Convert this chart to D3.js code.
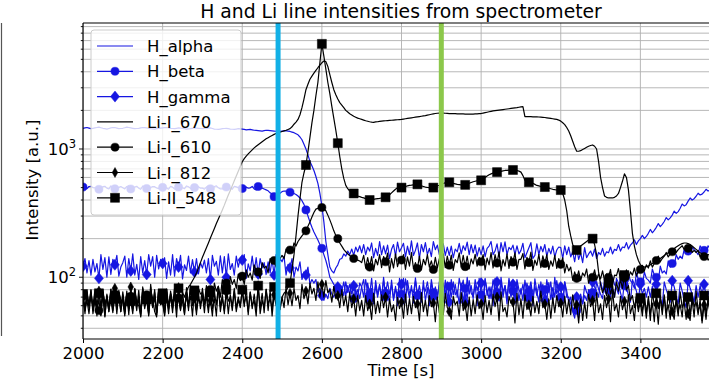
<!DOCTYPE html>
<html><head><meta charset="utf-8">
<script src="https://cdn.jsdelivr.net/npm/d3@7"></script>
<style>body{margin:0;background:#fff}svg{display:block}text{font-family:"DejaVu Sans",sans-serif}</style>
</head><body><svg id="c" width="709" height="386"></svg>
<script>
// ---- data (sampled every 5 s from t = 2000 s; one row = 100 s) ----
const tStart = 2000, tStep = 5;
const hAlpha = [
1450,1460,1470,1455,1440,1450,1460,1470,1480,1465,1450,1440,1430,1445,1460,1470,1470,1455,1440,1445,
1450,1465,1480,1470,1460,1450,1440,1445,1450,1460,1470,1465,1460,1450,1440,1435,1430,1440,1450,1455,
1460,1465,1470,1460,1450,1445,1440,1450,1460,1455,1450,1440,1430,1435,1440,1450,1460,1455,1450,1445,
1440,1445,1450,1455,1460,1445,1430,1425,1420,1430,1440,1445,1450,1440,1430,1425,1420,1430,1440,1435,
1430,1420,1410,1415,1420,1410,1400,1395,1390,1385,1380,1390,1400,1395,1390,1385,1380,1375,1370,1375,
1380,1385,1390,1380,1370,1355,1340,1315,1290,1240,1180,1090,1000,900,800,740,680,610,540,450,
360,270,190,150,120,112,108,118,125,138,140,152,146,160,150,166,148,172,158,176,
155,180,150,172,160,185,142,168,148,190,150,176,152,178,140,165,180,146,188,158,
170,184,144,175,150,192,148,162,185,140,180,158,186,150,168,145,190,164,178,150,
160,182,148,172,148,175,142,166,158,184,152,176,162,188,150,180,155,178,146,170,
150,176,145,168,175,190,150,160,182,144,186,158,189,150,171,164,178,150,176,152,
162,184,142,155,170,186,140,148,182,150,174,158,180,146,168,152,175,144,163,172,
170,140,176,150,172,144,158,132,168,138,155,130,170,142,152,160,146,166,140,156,
150,168,146,158,155,172,152,165,162,180,160,172,170,186,166,178,185,196,180,192,
200,212,200,208,220,236,222,232,245,262,248,258,272,292,280,290,305,328,315,325,
345,372,360,368,392,415,400,410,428,452,438,445,462,485,470,478,490,505,495,500,
510];
const hBeta = [
505,495,490,510,512,500,498,485,485,500,508,512,495,488,515,505,490,495,502,510,
498,488,510,515,488,495,505,512,495,485,515,505,492,485,500,510,508,496,490,500,
502,512,495,486,512,504,488,480,505,512,498,490,515,508,493,486,500,512,508,495,
495,486,505,514,490,482,510,516,498,488,488,500,505,512,495,485,512,506,500,490,
492,502,505,494,498,510,488,480,510,500,495,488,480,472,455,448,425,432,440,452,
465,470,470,462,460,455,450,442,430,415,395,370,335,300,270,245,225,210,195,180,
168,150,135,118,100,94,88,84,82,76,78,92,72,86,74,88,68,80,70,90,
84,70,96,76,68,82,62,94,73,88,66,100,70,79,64,95,66,85,60,98,
74,62,97,81,69,86,63,99,72,78,64,94,65,83,60,96,76,70,66,92,
80,64,95,67,85,70,92,73,79,62,90,64,82,68,94,75,71,87,60,98,
73,62,96,80,68,84,60,98,76,65,93,70,86,70,95,72,78,62,90,66,
82,66,95,74,69,85,60,97,77,64,92,71,80,66,91,67,83,70,94,75,
70,62,92,78,64,70,56,58,55,48,74,62,72,66,80,68,76,68,92,81,
74,68,96,85,79,70,100,88,82,74,104,90,86,78,106,94,90,82,108,96,
92,86,110,98,95,90,116,104,100,94,122,108,112,106,134,120,128,122,150,138,
146,140,164,152,160,152,172,164,158,150,176,166,162,154,176,168,160,152,172,165,
162];
const hGamma = [
122,140,108,135,104,138,110,128,98,150,115,142,100,144,105,138,125,148,102,120,
130,146,100,140,112,152,104,126,96,145,108,135,105,150,122,145,100,148,116,138,
128,142,98,132,104,150,102,140,120,148,97,125,113,146,108,137,110,140,106,130,
118,136,108,140,96,148,122,133,104,147,108,145,100,152,115,128,104,146,120,140,
136,150,98,127,112,146,110,142,106,140,118,130,105,132,108,138,104,150,121,140,
132,146,104,126,118,140,100,120,112,132,96,110,104,120,88,96,90,96,76,82,
72,66,74,68,82,74,70,78,84,70,82,72,92,76,88,74,86,72,80,68,
85,96,64,90,74,98,66,86,70,86,72,94,76,92,74,88,68,82,72,90,
88,98,64,94,75,80,76,94,72,86,70,84,78,92,74,90,70,84,72,86,
76,90,74,92,64,96,73,88,70,98,82,95,64,100,74,86,68,96,79,90,
90,64,98,72,84,68,96,78,92,66,100,76,86,62,98,70,88,68,96,80,
74,88,70,90,78,92,70,85,72,88,74,88,66,96,76,92,64,100,74,84,
84,62,92,70,70,62,54,48,70,60,68,62,86,76,72,64,92,84,78,70,
92,80,86,74,88,74,82,70,98,90,76,66,94,84,72,64,96,88,78,68,
88,74,82,70,84,70,85,74,88,76,68,60,92,80,72,64,94,84,70,62,
90,78,66,58,94,82,74,64,86,70,86,74,88,72,78,66,84,68,80,70,
75];
const liI670 = [
68,55,78,61,74,58,72,57,66,51,80,59,71,54,77,65,73,56,79,62,
67,52,74,55,70,57,82,64,60,50,84,63,76,55,75,58,69,53,80,66,
62,51,79,57,71,53,80,64,68,56,76,70,78,84,88,94,100,108,118,130,
143,156,170,185,202,220,240,262,284,308,335,365,400,437,475,518,565,615,670,730,
795,840,880,915,950,985,1020,1050,1080,1110,1140,1170,1200,1225,1250,1275,1300,1320,1340,1355,
1370,1385,1400,1420,1440,1490,1560,1620,1700,1850,2100,2450,2900,3200,3500,3700,3900,4100,4300,4500,
4700,4850,4800,4400,3800,3300,2900,2650,2450,2300,2200,2100,2000,1940,1880,1840,1800,1770,1740,1720,
1700,1680,1660,1645,1630,1620,1615,1625,1630,1640,1650,1655,1660,1665,1670,1675,1680,1685,1690,1695,
1700,1710,1720,1730,1740,1750,1760,1770,1780,1790,1800,1810,1820,1835,1850,1865,1880,1890,1900,1905,
1910,1905,1900,1895,1890,1890,1890,1885,1880,1880,1880,1875,1870,1870,1870,1870,1870,1875,1880,1885,
1890,1905,1920,1935,1950,1965,1980,1990,2000,2010,2020,2030,2040,2050,2060,2070,2080,2090,2100,2115,
2130,2140,1790,1790,1790,1785,1780,1780,1780,1775,1770,1765,1760,1750,1740,1730,1720,1710,1700,1680,
1650,1600,1550,1470,1380,1270,1150,1040,960,960,970,990,1010,1030,1050,1065,1075,1050,1000,800,
600,500,430,420,415,415,415,420,430,450,500,560,640,600,480,330,220,175,150,135,
125,122,120,121,122,125,128,130,133,136,140,144,148,152,155,159,163,167,172,176,
180,183,185,185,183,180,175,170,165,160,155,152,150,150,150,149,148,148,148,147,
147];
const liI610 = [
71,58,66,52,72,60,79,61,55,50,76,63,69,54,81,60,74,52,77,67,
64,50,75,57,71,55,80,59,66,52,82,62,73,51,79,68,54,49,78,70,
66,53,77,60,75,57,82,63,69,55,76,57,72,58,84,65,70,56,82,74,
76,62,86,73,80,66,90,78,85,70,96,83,90,76,101,88,96,82,106,94,
102,88,114,100,108,95,125,112,110,98,130,118,122,108,140,128,135,120,150,140,
148,140,166,155,163,158,185,175,190,200,210,220,230,250,270,295,320,340,345,352,
350,342,330,305,280,255,230,212,200,185,175,165,158,152,148,144,140,138,136,134,
130,148,118,142,120,145,112,138,125,150,119,145,132,154,110,140,118,152,121,138,
136,150,115,144,122,156,117,130,117,146,114,138,125,150,120,134,115,143,118,140,
128,152,119,146,124,149,113,137,130,155,120,148,121,146,116,139,127,151,122,143,
132,150,114,141,125,156,118,150,129,158,112,137,122,152,117,145,131,155,115,138,
138,153,116,143,130,157,113,136,124,151,119,147,128,150,115,134,122,148,117,140,
126,142,108,126,112,120,95,110,98,112,94,108,102,116,90,104,100,114,95,106,
97,112,94,106,100,115,88,104,103,117,95,108,99,114,98,110,104,118,102,112,
115,124,112,125,118,134,120,128,135,146,132,140,146,156,144,152,158,168,156,164,
170,176,165,172,168,174,156,162,156,162,144,150,145,150,136,142,140,146,132,138,
137];
const liI812 = [
70,52,76,58,80,55,68,50,78,60,71,49,74,56,66,53,82,61,70,54,
77,58,75,51,84,62,69,55,79,54,73,57,68,50,88,59,80,53,71,61,
67,50,81,56,74,58,72,49,83,60,66,52,77,55,86,60,69,51,75,57,
72,53,79,58,66,50,76,61,85,54,69,55,76,52,73,59,82,57,70,60,
78,59,83,51,76,57,74,55,86,52,66,58,80,55,79,50,73,60,68,56,
70,58,84,61,75,60,82,66,72,57,88,68,78,62,90,74,82,66,92,70,
88,70,94,76,80,64,85,68,72,58,80,60,72,54,76,58,68,50,72,55,
66,50,72,55,62,47,75,52,65,53,73,58,70,49,68,54,61,46,70,57,
64,48,74,51,68,52,71,58,62,46,76,54,66,50,72,59,63,45,70,53,
69,51,75,58,54,47,71,61,65,50,76,55,61,46,70,50,67,52,73,57,
62,47,72,53,66,51,74,59,70,46,77,54,58,49,71,63,64,44,75,51,
68,48,73,56,61,50,71,53,65,52,78,58,62,47,68,48,69,53,72,59,
63,49,71,52,67,51,73,57,61,44,68,46,64,48,74,59,66,46,76,53,
62,47,72,58,68,45,79,55,62,49,71,56,65,48,73,52,60,46,71,57,
64,50,74,53,67,46,77,60,62,43,72,56,69,48,78,58,54,47,71,55,
61,49,76,66,52,46,72,59,64,51,67,44,61,47,71,55,68,50,73,58,
60];
const liII548 = [
74,55,70,60,79,52,66,61,75,58,77,50,72,58,80,55,68,64,76,54,
73,54,78,57,65,52,81,60,70,49,80,62,67,53,84,59,76,51,79,66,
75,56,69,52,78,63,74,56,82,60,66,51,83,62,71,50,79,55,68,62,
82,61,70,53,76,57,68,50,85,59,73,52,80,65,70,55,78,54,67,58,
80,63,71,54,77,60,66,50,86,58,75,53,81,62,68,56,84,65,72,58,
70,75,78,84,90,115,150,210,300,410,550,650,750,950,1230,1600,2000,2600,3300,4700,
6600,5300,4200,3300,2700,2150,1730,1400,1110,870,700,590,520,490,470,460,450,440,430,425,
420,416,410,405,400,402,405,408,410,412,415,418,420,430,440,455,470,485,500,502,
500,505,510,515,520,522,525,528,530,522,515,510,505,502,500,500,500,508,515,522,
530,538,545,548,550,545,540,535,530,528,525,525,525,532,540,548,555,560,565,568,
570,585,600,615,630,640,650,655,660,665,670,675,680,682,685,686,686,684,680,672,
660,620,570,558,550,545,540,530,520,515,510,508,505,500,495,490,485,482,480,479,
478,450,400,330,250,210,180,170,163,168,175,180,185,190,195,198,200,180,150,110,
88,76,84,72,90,74,85,70,92,78,96,82,104,80,86,66,72,58,70,54,
69,55,65,48,71,52,63,45,75,57,68,51,73,53,61,47,72,56,64,50,
77,58,64,47,70,51,67,49,78,55,60,46,72,52,65,53,70,48,59,54,
57];
const seriesNames = ["H_alpha","H_beta","H_gamma","Li-I_670","Li-I_610","Li-I_812","Li-II_548"];
const xTickValues = [2000,2200,2400,2600,2800,3000,3200,3400];
const yTickValues = [100,1000];
const yTickExps = ["2","3"];
const markerTimes = [2490,2900];

// ---- styling ----
const BLUE = "#1616e2", BLACK = "#000";
const styles = [
  {c:BLUE, m:null}, {c:BLUE, m:"circle"}, {c:BLUE, m:"diamond"},
  {c:BLACK, m:null}, {c:BLACK, m:"circle"}, {c:BLACK, m:"thin"}, {c:BLACK, m:"square"}
];
const dataArrays = [hAlpha,hBeta,hGamma,liI670,liI610,liI812,liII548];
const series = seriesNames.map((n,i)=>({name:n, values:dataArrays[i], ...styles[i]}));

const svg = d3.select("#c");
const L=83, R=720, T=23, B=339;
const x = d3.scaleLinear().domain([2000,3600]).range([L,R]);
const y = d3.scaleLog().domain([33,9600]).range([B,T]);

svg.append("defs").append("clipPath").attr("id","pc")
  .append("rect").attr("x",L).attr("y",T).attr("width",R-L).attr("height",B-T);

// grid
const minorY = [];
[10,100,1000].forEach(d=>{for(let k=1;k<10;k++){const v=d*k; if(v>=33&&v<=9600) minorY.push(v);}});
const g = svg.append("g").attr("clip-path","url(#pc)");
g.selectAll(".hg").data(minorY).enter().append("line")
  .attr("x1",L).attr("x2",R).attr("y1",d=>y(d)).attr("y2",d=>y(d))
  .attr("stroke","#b0b0b0").attr("stroke-width",0.9);
g.selectAll(".vg").data(xTickValues).enter().append("line")
  .attr("y1",T).attr("y2",B).attr("x1",d=>x(d)).attr("x2",d=>x(d))
  .attr("stroke","#b0b0b0").attr("stroke-width",0.9);

// markers
function symPath(m){
  if(m==="circle") return d3.symbol().type(d3.symbolCircle).size(52)();
  if(m==="square") return "M-4.5,-4.5H4.5V4.5H-4.5Z";
  if(m==="diamond") return "M0,-5.5L4.5,0L0,5.5L-4.5,0Z";
  if(m==="thin") return "M0,-5L2.8,0L0,5L-2.8,0Z";
  return null;
}
const line = d3.line().x((d,i)=>x(tStart+i*tStep)).y(d=>y(d));
series.forEach(s=>{
  g.append("path").attr("d",line(s.values)).attr("fill","none")
    .attr("stroke",s.c).attr("stroke-width",1.2).attr("stroke-linejoin","round");
  if(s.m){
    const pts = s.values.map((v,i)=>({t:tStart+i*tStep,v})).filter((d,i)=>i%8===0);
    g.selectAll(null).data(pts).enter().append("path")
      .attr("d",symPath(s.m))
      .attr("transform",d=>`translate(${x(d.t)},${y(d.v)})`)
      .attr("fill",s.c).attr("stroke",s.c).attr("stroke-width",0.5);
  }
});

// vertical markers
const vColors = ["#12b0e6","#8cc84b"];
g.selectAll(".vl").data(markerTimes).enter().append("line")
  .attr("x1",d=>x(d)).attr("x2",d=>x(d)).attr("y1",T).attr("y2",B)
  .attr("stroke",(d,i)=>vColors[i]).attr("stroke-width",5);

// axes frame
svg.append("line").attr("x1",L).attr("x2",R).attr("y1",T).attr("y2",T).attr("stroke","#000").attr("stroke-width",1.2);
svg.append("line").attr("x1",L).attr("x2",R).attr("y1",B).attr("y2",B).attr("stroke","#000").attr("stroke-width",1.2);
svg.append("line").attr("x1",L).attr("x2",L).attr("y1",T).attr("y2",B).attr("stroke","#000").attr("stroke-width",1.2);

// x axis
const xa = svg.append("g").attr("transform",`translate(0,${B})`)
  .call(d3.axisBottom(x).tickValues(xTickValues).tickSize(4).tickPadding(4).tickFormat(d3.format("d")));
xa.select(".domain").remove();
xa.selectAll("text").attr("font-size",16.5).attr("fill","#000").attr("font-family","DejaVu Sans");
// y axis ticks
const ya = svg.append("g").attr("transform",`translate(${L},0)`);
ya.selectAll(".mt").data(minorY).enter().append("line")
  .attr("x1",d=>yTickValues.includes(d)?-4:-2.2).attr("x2",0)
  .attr("y1",d=>y(d)).attr("y2",d=>y(d)).attr("stroke","#000").attr("stroke-width",0.9);
const yl = ya.selectAll(".yl").data(yTickValues).enter().append("text")
  .attr("x",-7).attr("y",d=>y(d)+6).attr("text-anchor","end").attr("font-size",16.5);
yl.append("tspan").text("10");
yl.append("tspan").attr("dy",-7).attr("font-size",11.5).text((d,i)=>yTickExps[i]);

// labels
svg.append("text").attr("x",401).attr("y",18).attr("text-anchor","middle").attr("font-size",18.8)
  .text("H and Li line intensities from spectrometer");
svg.append("text").attr("x",401).attr("y",376).attr("text-anchor","middle").attr("font-size",16.5)
  .text("Time [s]");
svg.append("text").attr("transform","translate(38,180) rotate(-90)").attr("text-anchor","middle").attr("font-size",16.5)
  .text("Intensity [a.u.]");

// left border of neighbouring panel
svg.append("line").attr("x1",1.5).attr("x2",1.5).attr("y1",23).attr("y2",336).attr("stroke","#555").attr("stroke-width",1.2);

// legend
const lg = svg.append("g");
lg.append("rect").attr("x",91).attr("y",30).attr("width",150).attr("height",185).attr("rx",3)
  .attr("fill","#fff").attr("fill-opacity",0.8).attr("stroke","#cccccc");
series.forEach((s,i)=>{
  const cy = 46 + i*25.3;
  lg.append("line").attr("x1",97).attr("x2",133).attr("y1",cy).attr("y2",cy).attr("stroke",s.c).attr("stroke-width",1.2);
  if(s.m) lg.append("path").attr("d",symPath(s.m)).attr("transform",`translate(115,${cy})`).attr("fill",s.c).attr("stroke",s.c).attr("stroke-width",0.5);
  lg.append("text").attr("x",147).attr("y",cy+6).attr("font-size",16.5).text(s.name);
});
</script></body></html>
